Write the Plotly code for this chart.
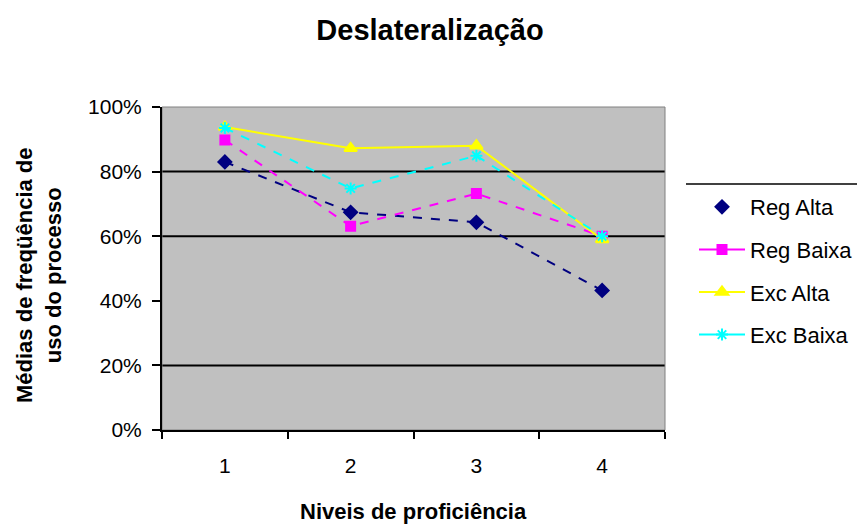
import plotly.graph_objects as go

# data
niveis = [1, 2, 3, 4]
reg_alta = [0.83, 0.674, 0.643, 0.432]
reg_baixa = [0.898, 0.631, 0.732, 0.60]
exc_alta = [0.938, 0.872, 0.88, 0.59]
exc_baixa = [0.935, 0.748, 0.849, 0.60]
y_ticks = [0, 0.2, 0.4, 0.6, 0.8, 1.0]
y_tick_labels = ['0%', '20%', '40%', '60%', '80%', '100%']
grid_values = [0.2, 0.6, 0.8]

W, H = 865, 527
# page body has an 8px margin, so the plot box is shifted back by 8px
L, T = 154, 99
PW, PH = 503, 323
R, B = W - L - PW, H - T - PH
FONT = 'Liberation Sans, Arial, sans-serif'


def px_x(x):
    return (x - 8 - L) / PW


def px_y(y):
    return (T + PH - (y - 8)) / PH


series = [
    ('Reg Alta', reg_alta, '#000080', 'diamond', 'dash', 10),
    ('Reg Baixa', reg_baixa, '#FF00FF', 'square', 'dash', 9),
    ('Exc Alta', exc_alta, '#FFFF00', 'triangle-up', 'solid', 11),
    ('Exc Baixa', exc_baixa, '#00FFFF', 'asterisk-open', 'dash', 10),
]

fig = go.Figure()
for name, vals, color, symbol, dash, size in series:
    marker = dict(symbol=symbol, size=size, color=color, line=dict(color=color, width=2))
    fig.add_trace(go.Scatter(
        x=niveis, y=vals, name=name, mode='lines+markers', legendgroup=name,
        showlegend=False, line=dict(color=color, width=2, dash=dash), marker=marker,
    ))
    # legend entries use solid lines; the first one shows the marker only
    legend_mode = 'markers' if name == 'Reg Alta' else 'lines+markers'
    fig.add_trace(go.Scatter(x=[None], y=[None], name=name, mode=legend_mode,
                             legendgroup=name, line=dict(color=color, width=2),
                             marker=marker))

shapes = []
for g in grid_values:
    shapes.append(dict(type='line', xref='paper', yref='y', x0=0, x1=1, y0=g, y1=g,
                       line=dict(color='black', width=2), layer='below'))
# top border of the legend box
shapes.append(dict(type='line', xref='paper', yref='paper',
                   x0=px_x(686), x1=px_x(880), y0=px_y(184), y1=px_y(184),
                   line=dict(color='black', width=1.5)))
# light frame of the plot area
shapes.append(dict(type='rect', xref='paper', yref='paper', x0=0, x1=1, y0=0, y1=1,
                   line=dict(color='#808080', width=1), layer='below'))

annotations = [
    dict(text='<b>Médias de freqüência de<br>uso do processo</b>', textangle=-90,
         xref='paper', yref='paper', x=px_x(39), y=px_y(275),
         xanchor='center', yanchor='middle', showarrow=False,
         font=dict(size=22)),
    dict(text='<b>Niveis de proficiência</b>',
         xref='paper', yref='paper', x=px_x(413), y=px_y(511),
         xanchor='center', yanchor='middle', showarrow=False,
         font=dict(size=22)),
]

fig.update_layout(
    width=W, height=H,
    margin=dict(l=L, r=R, t=T, b=B, autoexpand=False),
    paper_bgcolor='white', plot_bgcolor='#C0C0C0',
    font=dict(family=FONT, color='black', size=21),
    title=dict(text='<b>Deslateralização</b>', x=px_x(430), xref='paper', xanchor='center',
               y=1 - (30 - 8) / H, yanchor='middle', font=dict(size=29)),
    showlegend=True,
    legend=dict(x=px_x(694), y=px_y(186), xanchor='left', yanchor='top',
                bgcolor='rgba(0,0,0,0)', font=dict(size=22), tracegroupgap=11,
                traceorder='grouped', itemwidth=46),
    shapes=shapes,
    annotations=annotations,
)
fig.update_xaxes(
    range=[0.5, 4.5], tickvals=niveis, ticktext=[str(n) for n in niveis],
    ticks='', showgrid=False, zeroline=False, automargin=False,
    showline=True, linecolor='black', linewidth=2,
    minor=dict(tickvals=[0.5, 1.5, 2.5, 3.5, 4.5], ticks='outside', ticklen=7,
               tickcolor='black', tickwidth=2, showgrid=False),
    ticklabelstandoff=16,
    tickfont=dict(size=21),
)
fig.update_yaxes(
    range=[0, 1.0], tickvals=y_ticks, ticktext=y_tick_labels,
    ticks='outside', ticklen=8, tickcolor='black', tickwidth=2,
    showgrid=False, zeroline=False, automargin=False,
    showline=True, linecolor='black', linewidth=2,
    ticklabelstandoff=6,
    tickfont=dict(size=21),
)

fig.write_html('out.html')
